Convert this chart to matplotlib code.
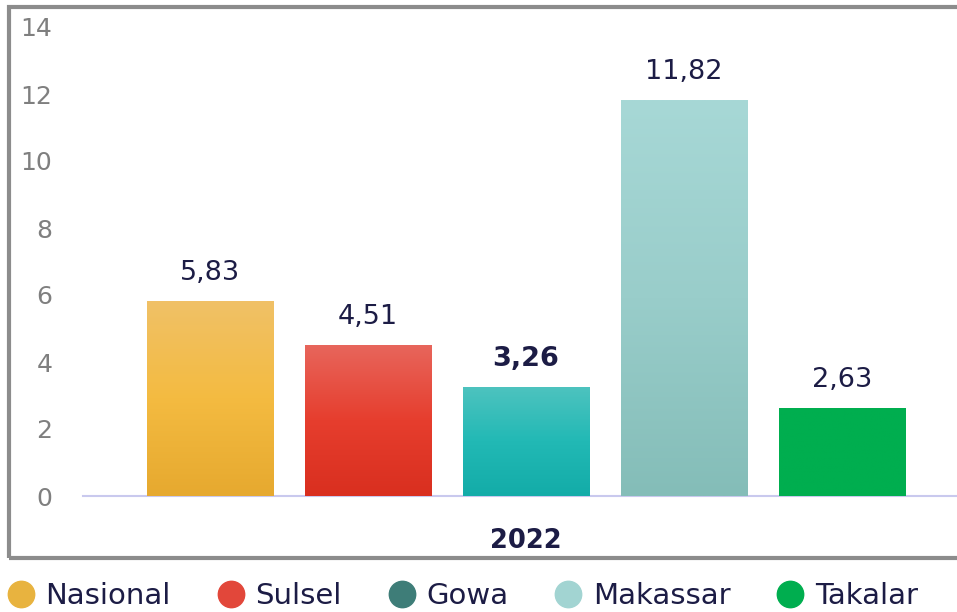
import matplotlib.pyplot as plt
import numpy as np
from matplotlib.colors import LinearSegmentedColormap
from matplotlib.lines import Line2D
from matplotlib.patches import Rectangle

# Data
regions = ["Nasional", "Sulsel", "Gowa", "Makassar", "Takalar"]
values = [5.83, 4.51, 3.26, 11.82, 2.63]
labels = ["5,83", "4,51", "3,26", "11,82", "2,63"]
year = "2022"

# bar gradients, top -> bottom
bar_grads = [
    ["#F0C167", "#F4BB41", "#E6A92F"],
    ["#E8665C", "#E63E2E", "#D92F1F"],
    ["#4EC3BF", "#22B9B5", "#13ACA8"],
    ["#A7D8D6", "#99CDCA", "#84BDB8"],
    ["#00AE4F", "#00AE4F", "#00AE4F"],
]
legend_colors = ["#E8B33F", "#E2473A", "#3E7D78", "#A2D4D2", "#00AE4F"]

NAVY = "#1C1C45"
GRAY = "#7F7F7F"

plt.rcParams["font.family"] = ["DejaVu Sans"]

fig = plt.figure(figsize=(9.57, 6.12), dpi=100)
ax = fig.add_axes([83 / 957, 116 / 612, 874 / 957, 469 / 612])

x = np.arange(len(regions))
bars = ax.bar(x, values, width=0.8, color=[g[1] for g in bar_grads], zorder=2)

# vertical gradient fill clipped to each bar
grad = np.linspace(0, 1, 256).reshape(-1, 1)
for bar, colors in zip(bars, bar_grads):
    bx, by = bar.get_xy()
    cmap = LinearSegmentedColormap.from_list("g", colors[::-1])
    im = ax.imshow(grad, cmap=cmap, origin="lower", aspect="auto",
                   extent=(bx, bx + bar.get_width(), by, by + bar.get_height()),
                   zorder=3)
    im.set_clip_path(bar)

# value labels, the Gowa one in bold
for i, (v, lab) in enumerate(zip(values, labels)):
    ax.annotate(lab, (x[i], v), textcoords="offset points", xytext=(0, 20),
                ha="center", va="center", fontsize=19.5, color=NAVY,
                fontweight="bold" if regions[i] == "Gowa" else "normal")

ax.set_xlim(-0.804, 4.728)
ax.set_ylim(0, 14)
ax.set_yticks(range(0, 15, 2))
ax.tick_params(axis="y", length=0, pad=22, labelsize=18, labelcolor=GRAY)
ax.set_xticks([2])
ax.set_xticklabels([year], fontsize=18.5, fontweight="bold", color=NAVY)
ax.tick_params(axis="x", length=0, pad=23)

for side in ["top", "right", "left"]:
    ax.spines[side].set_visible(False)
ax.spines["bottom"].set_color("#C9C9EE")
ax.spines["bottom"].set_linewidth(1.5)

# outer frame around the chart area
frame = Rectangle((9 / 957, 54 / 612), 1.1, 551 / 612, transform=fig.transFigure,
                  fill=False, edgecolor="#8C8C8C", linewidth=3, zorder=0)
fig.patches.append(frame)

handles = [Line2D([], [], marker="o", linestyle="none", markersize=19,
                  markerfacecolor=c, markeredgecolor=c) for c in legend_colors]
fig.legend(handles, regions, loc="lower left", bbox_to_anchor=(-0.015, -0.03),
           ncol=5, frameon=False, fontsize=21, labelcolor=NAVY,
           handlelength=1.0, handletextpad=0.35, columnspacing=1.55,
           borderpad=0.2)

fig.savefig("out.png", dpi=100)
